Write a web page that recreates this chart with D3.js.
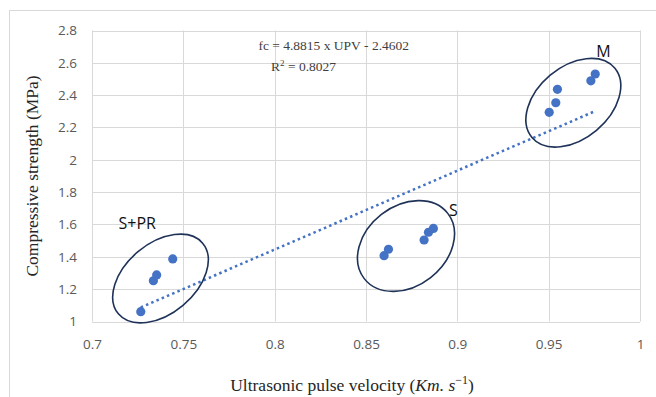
<!DOCTYPE html>
<html lang="en">
<head>
    <meta charset="UTF-8">
    <title>UPV vs compressive strength</title>
    <script src="https://cdn.jsdelivr.net/npm/d3@7/dist/d3.min.js"></script>
</head>
<style>
    body { margin: 0; background: #fff; }
    .tick text { font-family: "Open Sans", sans-serif; font-size: 13.5px; fill: #595959; }
    .grid line { stroke: #d9d9d9; stroke-width: 1; }
    .dot { fill: #4472c4; }
    .trend { fill: none; stroke: #4472c4; stroke-width: 2.5; stroke-dasharray: 2.5 3.2; }
    .ring { fill: none; stroke: #1f3358; stroke-width: 1.6; }
    .group-label { font-family: "Open Sans", sans-serif; font-size: 16px; fill: #111; }
    .eq { font-family: "Liberation Serif", "Times New Roman", serif; font-size: 13.5px; fill: #404040; }
    .axis-title { font-family: "Liberation Serif", "Times New Roman", serif; font-size: 17.5px; fill: #262626; }
</style>
<body>
<script>
    var width = 656;
    var height = 397;

    // measured points (UPV in km/s, strength in MPa)
    var upv = [0.7267, 0.7336, 0.7354, 0.7442,
               0.8599, 0.8623, 0.8818, 0.8842, 0.8869,
               0.9503, 0.9539, 0.9548, 0.9731, 0.9755];
    var strength = [1.061, 1.252, 1.288, 1.387,
                    1.407, 1.447, 1.504, 1.552, 1.576,
                    2.294, 2.353, 2.436, 2.489, 2.531];

    var xTicks = [0.7, 0.75, 0.8, 0.85, 0.9, 0.95, 1];
    var yTicks = [1, 1.2, 1.4, 1.6, 1.8, 2, 2.2, 2.4, 2.6, 2.8];

    // linear fit shown on the chart
    var slope = 4.8815;
    var intercept = -2.4602;
    var rSquared = 0.8027;

    // circled groups
    var groupNames = ['S+PR', 'S', 'M'];
    var groupCenterX = [0.7375, 0.8719, 0.9635];
    var groupCenterY = [1.266, 1.467, 2.353];

    var padding = {left: 92, right: 16, top: 30.5, bottom: 75.5};

    var svg = d3.select('body')
        .append('svg')
        .attr('width', width)
        .attr('height', height)

    // light frame around the chart
    svg.append('rect')
        .attr('x', 9.5)
        .attr('y', 10.5)
        .attr('width', width)
        .attr('height', height)
        .attr('fill', 'none')
        .attr('stroke', '#d9d9d9')

    var xScale = d3.scaleLinear()
        .domain([0.7, 1])
        .range([padding.left, width - padding.right])

    var yScale = d3.scaleLinear()
        .domain([1, 2.8])
        .range([height - padding.bottom, padding.top])

    // gridlines
    svg.append('g')
        .attr('class', 'grid')
        .selectAll('line')
        .data(yTicks)
        .enter()
        .append('line')
        .attr('x1', xScale(0.7))
        .attr('x2', xScale(1))
        .attr('y1', function (d) { return Math.round(yScale(d)) + 0.5 })
        .attr('y2', function (d) { return Math.round(yScale(d)) + 0.5 })

    svg.append('g')
        .attr('class', 'grid')
        .selectAll('line')
        .data(xTicks)
        .enter()
        .append('line')
        .attr('x1', function (d) { return Math.round(xScale(d)) + 0.5 })
        .attr('x2', function (d) { return Math.round(xScale(d)) + 0.5 })
        .attr('y1', yScale(1))
        .attr('y2', yScale(2.8))

    // axes: labels only, lines come from the grid
    var xAxis = d3.axisBottom(xScale)
        .tickValues(xTicks)
        .tickSize(0)
        .tickPadding(18)
        .tickFormat(function (d) { return d3.format('')(d) })

    var yAxis = d3.axisLeft(yScale)
        .tickValues(yTicks)
        .tickSize(0)
        .tickPadding(15)
        .tickFormat(function (d) { return d3.format('')(d) })

    svg.append('g')
        .attr('transform', 'translate(0,' + yScale(1) + ')')
        .call(xAxis)
        .call(function (g) { g.select('.domain').remove() })

    svg.append('g')
        .attr('transform', 'translate(' + xScale(0.7) + ',0)')
        .call(yAxis)
        .call(function (g) { g.select('.domain').remove() })

    // trendline across the data range
    var xMin = d3.min(upv);
    var xMax = d3.max(upv);
    svg.append('line')
        .attr('class', 'trend')
        .attr('x1', xScale(xMin))
        .attr('y1', yScale(slope * xMin + intercept))
        .attr('x2', xScale(xMax))
        .attr('y2', yScale(slope * xMax + intercept))

    // points
    svg.selectAll('.dot')
        .data(upv)
        .enter()
        .append('circle')
        .attr('class', 'dot')
        .attr('cx', function (d) { return xScale(d) })
        .attr('cy', function (d, i) { return yScale(strength[i]) })
        .attr('r', 4.6)

    // group ellipses
    var rings = [{rx: 55, ry: 35, a: -40}, {rx: 53, ry: 40, a: -38}, {rx: 54, ry: 36, a: -40}];
    var labelOffset = [[-42, -49], [43, -30], [23, -46]];

    groupNames.forEach(function (name, i) {
        var cx = xScale(groupCenterX[i]);
        var cy = yScale(groupCenterY[i]);
        svg.append('ellipse')
            .attr('class', 'ring')
            .attr('transform', 'translate(' + cx + ',' + cy + ') rotate(' + rings[i].a + ')')
            .attr('rx', rings[i].rx)
            .attr('ry', rings[i].ry)
        svg.append('text')
            .attr('class', 'group-label')
            .attr('x', cx + labelOffset[i][0])
            .attr('y', cy + labelOffset[i][1])
            .text(name)
    })

    // equation
    svg.append('text')
        .attr('class', 'eq')
        .attr('x', 409)
        .attr('y', 50)
        .attr('text-anchor', 'end')
        .text('fc = ' + slope + ' x UPV - ' + Math.abs(intercept))

    var r2 = svg.append('text')
        .attr('class', 'eq')
        .attr('x', 271)
        .attr('y', 71)
    r2.append('tspan').text('R')
    r2.append('tspan').attr('dy', -5).style('font-size', '9px').text('2')
    r2.append('tspan').attr('dy', 5).text(' = ' + rSquared)

    // axis titles
    svg.append('text')
        .attr('class', 'axis-title')
        .attr('transform', 'translate(38,' + ((yScale(1) + yScale(2.8)) / 2) + ') rotate(-90)')
        .attr('text-anchor', 'middle')
        .text('Compressive strength (MPa)')

    var xt = svg.append('text')
        .attr('class', 'axis-title')
        .attr('x', 352)
        .attr('y', 391)
        .attr('text-anchor', 'middle')
    xt.append('tspan').text('Ultrasonic pulse velocity (')
    xt.append('tspan').style('font-style', 'italic').text('Km. s')
    xt.append('tspan').attr('dy', -7).style('font-size', '12px').text('\u22121')
    xt.append('tspan').attr('dy', 7).text(')')
</script>

</body>
</html>
